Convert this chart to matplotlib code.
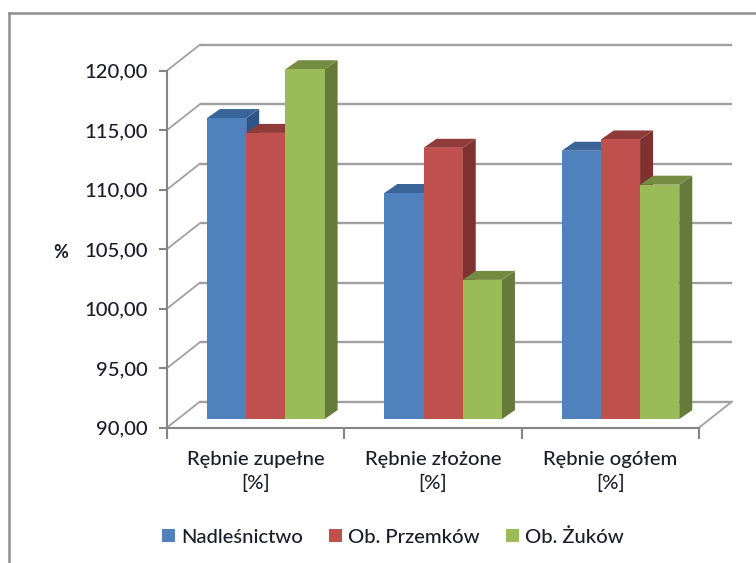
import matplotlib
matplotlib.use("Agg")
import matplotlib.pyplot as plt
from matplotlib.lines import Line2D
from matplotlib.patches import Polygon

plt.rcParams['font.family'] = ['Lato', 'DejaVu Sans']

categories = ['Rębnie zupełne\n[%]', 'Rębnie złożone\n[%]', 'Rębnie ogółem\n[%]']
series_names = ['Nadleśnictwo', 'Ob. Przemków', 'Ob. Żuków']
nadlesnictwo = [115.3, 109.0, 112.55]
przemkow = [114.05, 112.8, 113.5]
zukow = [119.4, 101.7, 109.7]
y_ticks = [90, 95, 100, 105, 110, 115, 120]

front_cols = ['#4F81BD', '#C0504D', '#9BBB59']
top_cols = ['#3A6599', '#8F3B39', '#748C42']
side_cols = ['#2F5587', '#7E3230', '#667B3A']
text_col = '#1c1c2a'

W, H = 756, 563
fig = plt.figure(figsize=(W / 100, H / 100), dpi=100)
ax = fig.add_axes([167 / W, 1 - 427.6 / H, 532 / W, 357 / H])
ax.set_xlim(0, 3)
ax.set_ylim(90, 120)
ax.patch.set_visible(False)

# 3d look: pixel offsets turned into data units
px_x = 3 / 532
px_y = 30 / 357
wall_dx, wall_dy = 33 * px_x, 26 * px_y
bar_dx, bar_dy = 10 * px_x, 8.5 * px_y
depth_dx, depth_dy = 13 * px_x, 9 * px_y
bar_w = 39.2 * px_x
first_bar = 30 * px_x

grid_col = '#a0a0a0'
for v in y_ticks:
    ax.plot([wall_dx, 3 + wall_dx], [v + wall_dy, v + wall_dy], color=grid_col, lw=1.7,
            clip_on=False, zorder=1, solid_capstyle='butt')
    ax.plot([0, wall_dx], [v, v + wall_dy], color=grid_col, lw=1.3, clip_on=False, zorder=1)
ax.plot([3, 3 + wall_dx], [90, 90 + wall_dy], color=grid_col, lw=1.3, clip_on=False, zorder=1)

series = [nadlesnictwo, przemkow, zukow]
z = 2
for g in range(len(categories)):
    for s, vals in enumerate(series):
        v = vals[g]
        x0 = g + first_bar + s * bar_w + bar_dx
        x1 = x0 + bar_w
        base = 90 + bar_dy
        topv = v + bar_dy
        ax.add_patch(Polygon([(x1, base), (x1, topv), (x1 + depth_dx, topv + depth_dy),
                              (x1 + depth_dx, base + depth_dy)],
                             fc=side_cols[s], ec='none', clip_on=False, zorder=z))
        ax.add_patch(Polygon([(x0, topv), (x1, topv), (x1 + depth_dx, topv + depth_dy),
                              (x0 + depth_dx, topv + depth_dy)],
                             fc=top_cols[s], ec='none', clip_on=False, zorder=z))
        ax.bar(x0, v - 90, bar_w, bottom=base, align='edge', color=front_cols[s],
               clip_on=False, zorder=z)
        z += 1

for sp in ['top', 'right']:
    ax.spines[sp].set_visible(False)
for sp in ['left', 'bottom']:
    ax.spines[sp].set_color('#858585')
    ax.spines[sp].set_linewidth(1.5)

ax.set_yticks(y_ticks)
ax.set_yticklabels(['%d,00' % v for v in y_ticks], fontsize=14.6, color=text_col,
                   fontweight='medium')
ax.set_xticks([0, 1, 2, 3])
ax.set_xticklabels([])
ax.set_xticks([0.5, 1.5, 2.5], minor=True)
ax.set_xticklabels(categories, minor=True, fontsize=14.6, color=text_col, linespacing=1.36,
                   fontweight='medium')
ax.tick_params(axis='y', length=6, width=1.5, color='#858585', pad=8)
ax.tick_params(axis='x', which='major', length=8, width=1.5, color='#858585')
ax.tick_params(axis='x', which='minor', length=0, pad=17)

fig.text(61 / W, 1 - 253 / H, '%', fontsize=13, fontweight='bold', color=text_col,
         ha='center', va='center')

handles = [plt.Rectangle((0, 0), 1, 1, fc=c, ec='none') for c in front_cols]
fig.legend(handles, series_names, loc='center', bbox_to_anchor=(393 / W, 1 - 537 / H),
           ncol=3, frameon=False, labelcolor=text_col, handlelength=0.64,
           handleheight=0.64, handletextpad=0.3, columnspacing=1.3,
           prop={'size': 14.6, 'weight': 'medium'})

# chart frame, cut by the page on the right and the bottom
frame = '#8f8f8f'
fig.add_artist(Line2D([9 / W, 9 / W], [0, 1 - 13 / H], color=frame, lw=1.8))
fig.add_artist(Line2D([9 / W, 1], [1 - 13 / H, 1 - 13 / H], color=frame, lw=1.8))

fig.savefig('out.png', dpi=100)
